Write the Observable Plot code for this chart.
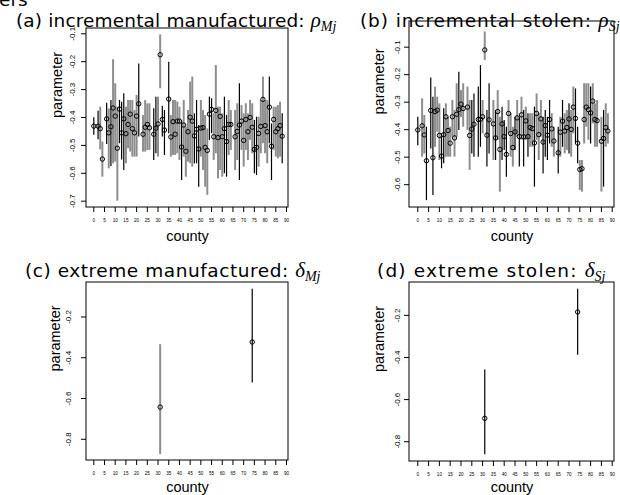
<!DOCTYPE html>
<html>
<head>
<meta charset="utf-8">
<script src="https://cdn.jsdelivr.net/npm/d3@7"></script>
<script src="https://cdn.jsdelivr.net/npm/@observablehq/plot@0.6"></script>
<style>
  html, body { margin: 0; padding: 0; background: #fff; }
  #wrap { position: relative; width: 620px; height: 495px; overflow: hidden; background: #fff; }
  #wrap > div.p { position: absolute; }
  #titles { position: absolute; left: 0; top: 0; pointer-events: none; }
  #titles text { font-family: "DejaVu Sans", sans-serif; font-size: 18.5px; fill: #000; }
  #titles .m { font-family: "Liberation Serif", serif; font-style: italic; font-size: 21px; letter-spacing: 0; }
  #titles .s { font-family: "Liberation Serif", serif; font-style: italic; font-size: 14px; letter-spacing: 0; }
</style>
</head>
<body>
<div id="wrap">
  <div class="p" id="pa" style="left:0px;top:0px"></div>
  <div class="p" id="pb" style="left:310px;top:0px"></div>
  <div class="p" id="pc" style="left:0px;top:248px"></div>
  <div class="p" id="pd" style="left:310px;top:248px"></div>
  <svg id="titles" width="620" height="495">
    <text x="-1" y="6">ers</text>
    <text x="16" y="27" style="letter-spacing:0.15px">(a) incremental manufactured: <tspan class="m">ρ</tspan><tspan class="s" dy="4">Mj</tspan></text>
    <text x="360" y="27" style="letter-spacing:0.9px">(b) incremental stolen: <tspan class="m">ρ</tspan><tspan class="s" dy="4">Sj</tspan></text>
    <text x="25" y="277" style="letter-spacing:0.55px">(c) extreme manufactured: <tspan class="m">δ</tspan><tspan class="s" dy="4">Mj</tspan></text>
    <text x="377" y="277" style="letter-spacing:1.2px">(d) extreme stolen: <tspan class="m">δ</tspan><tspan class="s" dy="4">Sj</tspan></text>
  </svg>
</div>
<script>
// ---------- tick labels ----------
const xTickValues = d3.range(0, 91, 5);
const yTicksA = [-0.1, -0.2, -0.3, -0.4, -0.5, -0.6, -0.7];
const yTicksB = [-0.1, -0.2, -0.3, -0.4, -0.5, -0.6];
const yTicksCD = [-0.2, -0.4, -0.6, -0.8];
const xLabel = "county";
const yLabel = "parameter";

// ---------- (a) incremental manufactured ----------
const aCounty = [0,2,3,4,6,7,8,9,10,11,12,13,14,15,16,17,18,19,20,21,23,24,25,26,28,29,30,31,32,33,35,36,37,38,39,40,41,42,43,44,45,46,47,48,49,50,51,52,53,54,55,56,57,58,59,60,61,62,63,64,66,67,68,69,70,71,72,73,74,75,76,77,78,79,80,81,82,83,84,85,86,87,88];
const aEst = [-0.431,-0.431,-0.440,-0.549,-0.405,-0.455,-0.433,-0.366,-0.395,-0.510,-0.370,-0.455,-0.405,-0.458,-0.425,-0.388,-0.440,-0.455,-0.395,-0.351,-0.460,-0.435,-0.425,-0.437,-0.460,-0.438,-0.423,-0.175,-0.407,-0.445,-0.334,-0.470,-0.415,-0.460,-0.413,-0.413,-0.506,-0.427,-0.521,-0.451,-0.399,-0.413,-0.466,-0.442,-0.513,-0.438,-0.436,-0.507,-0.518,-0.388,-0.371,-0.469,-0.375,-0.472,-0.396,-0.469,-0.440,-0.486,-0.425,-0.425,-0.469,-0.450,-0.427,-0.413,-0.482,-0.407,-0.451,-0.400,-0.435,-0.514,-0.507,-0.457,-0.432,-0.335,-0.429,-0.451,-0.363,-0.503,-0.407,-0.451,-0.440,-0.429,-0.467];
const aLow = [-0.464,-0.480,-0.516,-0.614,-0.497,-0.584,-0.576,-0.566,-0.560,-0.700,-0.494,-0.552,-0.590,-0.566,-0.512,-0.524,-0.542,-0.542,-0.542,-0.470,-0.524,-0.524,-0.518,-0.518,-0.554,-0.530,-0.542,-0.297,-0.470,-0.536,-0.458,-0.542,-0.536,-0.536,-0.530,-0.554,-0.626,-0.542,-0.614,-0.560,-0.566,-0.578,-0.566,-0.566,-0.650,-0.542,-0.590,-0.650,-0.679,-0.482,-0.458,-0.554,-0.530,-0.620,-0.590,-0.614,-0.602,-0.614,-0.536,-0.518,-0.590,-0.554,-0.626,-0.518,-0.578,-0.518,-0.554,-0.482,-0.530,-0.602,-0.608,-0.578,-0.530,-0.494,-0.530,-0.566,-0.494,-0.626,-0.518,-0.542,-0.548,-0.542,-0.566];
const aHigh = [-0.401,-0.378,-0.363,-0.488,-0.349,-0.369,-0.339,-0.193,-0.279,-0.363,-0.339,-0.345,-0.315,-0.363,-0.339,-0.339,-0.339,-0.375,-0.321,-0.208,-0.393,-0.339,-0.351,-0.351,-0.369,-0.327,-0.327,-0.104,-0.360,-0.375,-0.202,-0.393,-0.339,-0.339,-0.345,-0.363,-0.411,-0.339,-0.435,-0.375,-0.273,-0.255,-0.387,-0.339,-0.429,-0.339,-0.375,-0.393,-0.441,-0.327,-0.333,-0.387,-0.214,-0.363,-0.363,-0.387,-0.327,-0.393,-0.339,-0.375,-0.375,-0.351,-0.279,-0.357,-0.387,-0.351,-0.387,-0.339,-0.351,-0.411,-0.399,-0.399,-0.339,-0.255,-0.339,-0.339,-0.255,-0.423,-0.363,-0.363,-0.357,-0.345,-0.387];
const aDark = [1,1,0,0,1,0,1,0,0,0,1,1,1,0,0,0,0,0,0,1,0,0,0,0,1,1,0,0,1,1,1,0,0,0,0,0,1,0,0,0,0,0,1,1,1,0,0,0,0,1,1,0,0,0,0,0,1,1,0,0,0,0,1,0,0,0,0,0,0,1,1,0,0,0,0,0,1,1,0,0,0,0,1];

// ---------- (b) incremental stolen ----------
const bCounty = [0,2,3,4,6,7,8,9,10,11,12,13,14,15,16,17,18,19,20,21,23,24,25,26,28,29,30,31,32,33,35,36,37,38,39,40,41,42,43,44,45,46,47,48,49,50,51,52,53,54,55,56,57,58,59,60,61,62,63,65,66,67,68,69,70,71,72,73,74,75,76,77,78,79,80,81,82,83,85,86,87,88];
const bEst = [-0.401,-0.386,-0.419,-0.513,-0.330,-0.502,-0.334,-0.329,-0.421,-0.496,-0.418,-0.353,-0.403,-0.449,-0.353,-0.430,-0.344,-0.327,-0.307,-0.323,-0.318,-0.421,-0.398,-0.380,-0.363,-0.362,-0.353,-0.110,-0.420,-0.364,-0.379,-0.430,-0.334,-0.472,-0.379,-0.425,-0.490,-0.341,-0.414,-0.465,-0.408,-0.357,-0.425,-0.346,-0.426,-0.368,-0.425,-0.392,-0.396,-0.448,-0.341,-0.418,-0.361,-0.445,-0.385,-0.420,-0.363,-0.397,-0.441,-0.484,-0.409,-0.369,-0.405,-0.392,-0.361,-0.399,-0.318,-0.359,-0.449,-0.545,-0.542,-0.363,-0.318,-0.327,-0.339,-0.296,-0.363,-0.367,-0.442,-0.432,-0.392,-0.405];
const bLow = [-0.458,-0.500,-0.488,-0.658,-0.470,-0.639,-0.464,-0.409,-0.512,-0.542,-0.524,-0.500,-0.500,-0.500,-0.427,-0.500,-0.427,-0.403,-0.355,-0.391,-0.403,-0.548,-0.488,-0.500,-0.500,-0.464,-0.415,-0.148,-0.536,-0.488,-0.512,-0.512,-0.439,-0.627,-0.512,-0.476,-0.573,-0.415,-0.500,-0.536,-0.476,-0.427,-0.536,-0.439,-0.536,-0.439,-0.500,-0.464,-0.464,-0.609,-0.439,-0.512,-0.427,-0.561,-0.500,-0.512,-0.452,-0.464,-0.500,-0.561,-0.500,-0.464,-0.488,-0.476,-0.488,-0.500,-0.415,-0.452,-0.524,-0.621,-0.627,-0.452,-0.391,-0.439,-0.452,-0.379,-0.464,-0.464,-0.627,-0.609,-0.464,-0.452];
const bHigh = [-0.355,-0.288,-0.348,-0.391,-0.212,-0.282,-0.245,-0.282,-0.306,-0.415,-0.324,-0.306,-0.355,-0.391,-0.294,-0.330,-0.233,-0.191,-0.258,-0.233,-0.245,-0.294,-0.294,-0.270,-0.245,-0.167,-0.294,-0.045,-0.330,-0.233,-0.294,-0.330,-0.258,-0.355,-0.318,-0.367,-0.391,-0.294,-0.342,-0.391,-0.355,-0.294,-0.355,-0.282,-0.330,-0.318,-0.342,-0.342,-0.342,-0.318,-0.270,-0.342,-0.294,-0.355,-0.330,-0.355,-0.294,-0.342,-0.391,-0.391,-0.355,-0.294,-0.342,-0.330,-0.306,-0.330,-0.245,-0.252,-0.391,-0.512,-0.512,-0.233,-0.233,-0.233,-0.245,-0.233,-0.306,-0.294,-0.355,-0.330,-0.306,-0.342];
const bDark = [1,0,0,1,1,1,0,0,0,1,1,0,0,0,0,0,0,1,0,0,0,0,1,1,1,1,0,0,1,1,0,1,0,0,1,1,1,0,0,0,1,0,1,0,1,0,1,0,0,1,0,0,0,1,1,1,1,0,0,1,0,1,0,0,1,0,0,1,1,0,0,0,0,0,1,0,0,0,0,1,0,0];

// ---------- (c) extreme manufactured ----------
const cCounty = [31, 74];
const cEst = [-0.642, -0.323];
const cLow = [-0.875, -0.524];
const cHigh = [-0.336, -0.064];
const cDark = [0, 1];

// ---------- (d) extreme stolen ----------
const dCounty = [31, 74];
const dEst = [-0.689, -0.184];
const dLow = [-0.862, -0.390];
const dHigh = [-0.459, -0.076];
const dDark = [1, 1];

function rows(county, est, low, high, dark) {
  return county.map((c, i) => ({county: c, est: est[i], low: low[i], high: high[i], dark: dark[i] === 1}));
}

const fmt = d => d.toFixed(1);

function panel(el, data, cfg) {
  const [x0, x1] = cfg.xDomain;
  const [y0, y1] = cfg.yDomain;
  const chart = Plot.plot({
    width: cfg.width,
    height: cfg.height,
    marginLeft: cfg.ml, marginRight: cfg.mr, marginTop: cfg.mt, marginBottom: cfg.mb,
    style: {fontFamily: "'Liberation Sans', Arial, sans-serif", background: "white", color: "black", overflow: "visible"},
    x: {domain: cfg.xDomain, axis: null},
    y: {domain: cfg.yDomain, axis: null},
    marks: [
      Plot.ruleX(data.filter(d => !d.dark), {x: "county", y1: "low", y2: "high", stroke: "#8e8e8e", strokeWidth: 2}),
      Plot.ruleX(data.filter(d => d.dark), {x: "county", y1: "low", y2: "high", stroke: "#000", strokeWidth: 1.2}),
      Plot.dot(data, {x: "county", y: "est", r: 2.2, stroke: "#000", strokeWidth: 1, fill: "none"}),
      // plot box drawn through the scales at the domain limits
      Plot.rect([{x1: x0, x2: x1, y1: y0, y2: y1}], {x1: "x1", x2: "x2", y1: "y1", y2: "y2", fill: "none", stroke: "#000", strokeWidth: 1}),
      Plot.axisX({ticks: xTickValues, tickSize: 5, tickPadding: 6, fontSize: 4.6, tickFormat: d => String(d), anchor: "bottom", label: null}),
      Plot.axisY({ticks: cfg.yTicks, tickSize: 5, tickFormat: () => "", anchor: "left", label: null}),
      Plot.text(cfg.yTicks, {y: d => d, text: fmt, frameAnchor: "left", dx: cfg.yLabDx, rotate: -90, fontSize: 8, textAnchor: "middle", lineAnchor: "middle"}),
      Plot.text([yLabel], {text: d => d, frameAnchor: "left", dx: cfg.yTitleDx, rotate: -90, fontSize: 14.5, lineAnchor: "middle"}),
      Plot.text([xLabel], {text: d => d, frameAnchor: "bottom", dy: cfg.xTitleDy, fontSize: 14.5, lineAnchor: "middle"})
    ]
  });
  document.getElementById(el).appendChild(chart);
}

panel("pa", rows(aCounty, aEst, aLow, aHigh, aDark), {
  width: 310, height: 248, ml: 86, mr: 22, mt: 28, mb: 41,
  xDomain: [-3.41, 90.94], yDomain: [-0.7226, -0.081], yTicks: yTicksA, yLabDx: -14.5, yTitleDx: -29.5, xTitleDy: 29
});
panel("pb", rows(bCounty, bEst, bLow, bHigh, bDark), {
  width: 310, height: 248, ml: 99, mr: 6, mt: 21, mb: 41,
  xDomain: [-3.84, 91.06], yDomain: [-0.683, -0.0066], yTicks: yTicksB, yLabDx: -12.5, yTitleDx: -30, xTitleDy: 29
});
panel("pc", rows(cCounty, cEst, cLow, cHigh, cDark), {
  width: 310, height: 247, ml: 86, mr: 22, mt: 34, mb: 35,
  xDomain: [-3.41, 90.94], yDomain: [-0.904, -0.031], yTicks: yTicksCD, yLabDx: -18, yTitleDx: -31, xTitleDy: 26.5
});
panel("pd", rows(dCounty, dEst, dLow, dHigh, dDark), {
  width: 310, height: 247, ml: 99, mr: 6, mt: 34, mb: 34,
  xDomain: [-3.84, 91.06], yDomain: [-0.894, -0.044], yTicks: yTicksCD, yLabDx: -12.5, yTitleDx: -30, xTitleDy: 26
});
</script>
</body>
</html>
